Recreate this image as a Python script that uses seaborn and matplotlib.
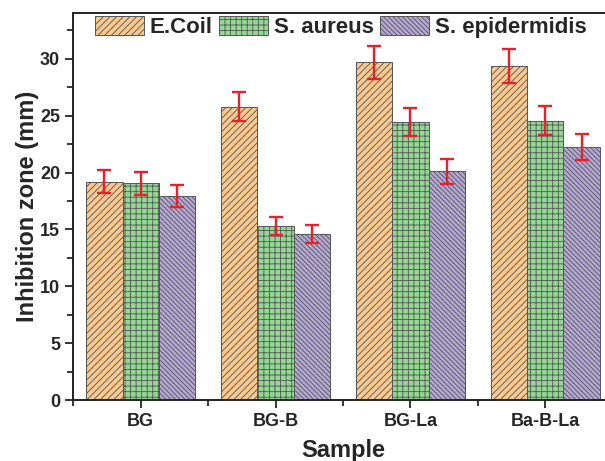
import matplotlib
matplotlib.use("Agg")
import matplotlib.pyplot as plt
import seaborn as sns
import pandas as pd
import numpy as np
from matplotlib.patches import Patch
from matplotlib.ticker import MultipleLocator, FixedLocator

samples = ["BG", "BG-B", "BG-La", "Ba-B-La"]
series = ["E.Coil", "S. aureus", "S. epidermidis"]
ecoli = [19.2, 25.8, 29.7, 29.35]
saureus = [19.05, 15.3, 24.45, 24.55]
sepid = [17.95, 14.6, 20.1, 22.25]
ecoli_err = [1.0, 1.28, 1.45, 1.47]
saureus_err = [1.0, 0.8, 1.25, 1.29]
sepid_err = [0.95, 0.76, 1.09, 1.16]

colors = ["#F8C88C", "#92D792", "#B5A7D3"]
hatches = ["/////", "+++", "\\\\\\\\\\\\\\"]

sns.set_style("ticks")
plt.rcParams["font.family"] = ["Liberation Sans", "DejaVu Sans"]
plt.rcParams["font.weight"] = "bold"
plt.rcParams["axes.labelweight"] = "bold"
plt.rcParams["hatch.linewidth"] = 0.6
plt.rcParams["hatch.color"] = "#4a4a4a"

vals = [ecoli, saureus, sepid]
errs = [ecoli_err, saureus_err, sepid_err]
rows = []
for s, v, e in zip(series, vals, errs):
    for samp, vv, ee in zip(samples, v, e):
        rows.append({"Sample": samp, "Series": s, "Value": vv, "Err": ee})
df = pd.DataFrame(rows)

fig = plt.figure(figsize=(6.05, 4.61), dpi=100)
ax = fig.add_axes([73.3 / 605, 61 / 461, (612.7 - 73.3) / 605, (400 - 13.3) / 461])

sns.barplot(data=df, x="Sample", y="Value", hue="Series", order=samples,
            hue_order=series, palette=colors, width=0.81, errorbar=None,
            edgecolor="#555555", linewidth=0.7, legend=False, ax=ax, saturation=1)

bars = [p for p in ax.patches]
for i, s in enumerate(series):
    for j in range(len(samples)):
        p = bars[i * len(samples) + j]
        p.set_hatch(hatches[i])
        cx = p.get_x() + p.get_width() / 2
        ax.errorbar(cx, p.get_height(), yerr=errs[i][j], color="#E8202A",
                    capsize=5, elinewidth=1.7, capthick=1.7, fmt="none", zorder=5)

ax.set_ylim(0, 34)
ax.set_xlim(-0.5, 3.5)
ax.yaxis.set_major_locator(MultipleLocator(5))
ax.yaxis.set_minor_locator(MultipleLocator(2.5))
ax.xaxis.set_minor_locator(FixedLocator([-0.5, 0.5, 1.5, 2.5, 3.5]))
ax.tick_params(axis="both", which="major", direction="out", length=6, width=1.3,
               labelsize=13)
ax.tick_params(axis="both", which="minor", direction="out", length=4, width=1.3)
for lab in ax.get_xticklabels() + ax.get_yticklabels():
    lab.set_fontweight("bold")
for sp in ax.spines.values():
    sp.set_visible(True)
    sp.set_linewidth(1.4)
    sp.set_color("#222222")

ax.set_xlabel("Sample", fontsize=17, fontweight="bold", labelpad=6)
ax.set_ylabel("Inhibition zone (mm)", fontsize=17, fontweight="bold", labelpad=1)

handles = [Patch(facecolor=c, edgecolor="#555555", hatch=h, linewidth=0.7)
           for c, h in zip(colors, hatches)]
leg = ax.legend(handles, series, ncol=3, loc="center", bbox_to_anchor=(0.496, 0.9646),
                frameon=False, handlelength=2.2, handleheight=0.95,
                handletextpad=0.28, columnspacing=0.28, borderaxespad=0,
                prop={"size": 16, "weight": "bold"})

fig.savefig("out.png", dpi=100)
